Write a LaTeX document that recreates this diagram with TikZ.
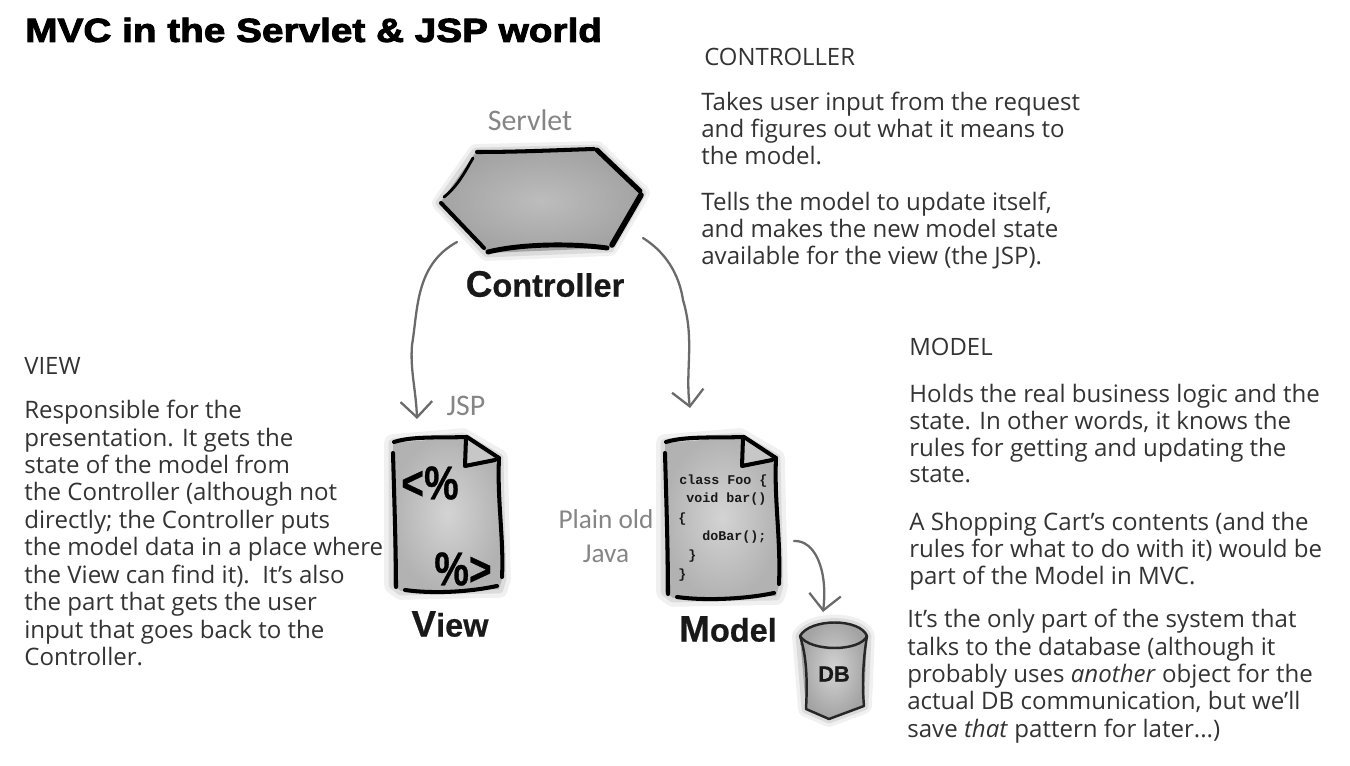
\documentclass[tikz,border=0pt]{standalone}
\usepackage{fontspec}
\usepackage{xcolor}
\usetikzlibrary{arrows.meta}
\setmainfont{Open Sans}
\newfontfamily\headfont[BoldFeatures={FakeBold=2.8,FakeStretch=1.16}]{Liberation Sans}
\newfontfamily\labelfont[BoldFeatures={FakeBold=0.6}]{Liberation Sans}
\newfontfamily\glyphfont[BoldFeatures={FakeBold=0.6,FakeStretch=0.82}]{Liberation Sans}
\newfontfamily\handfont{Carlito}
\newfontfamily\codefont{Liberation Mono}
\definecolor{inktext}{HTML}{333333}
\definecolor{pencil}{HTML}{6A6A6A}
\definecolor{handgray}{HTML}{858585}
\tikzset{
    bodytext/.style={text=inktext, anchor=north west, align=left, inner sep=0pt, font=\fontsize{13.7}{15.2}\selectfont},
    headtext/.style={text=inktext, anchor=west, inner sep=0pt, font=\fontsize{13.6}{15}\selectfont},
    handtext/.style={text=handgray, inner sep=0pt, align=center, font=\handfont\fontsize{17}{19}\selectfont},
    parttext/.style={text=black!90, inner sep=0pt, font=\labelfont\bfseries\fontsize{18.5}{20}\selectfont},
    ink/.style={black, line width=2.3pt, line cap=round, line join=round},
    thinink/.style={black!85, line width=1.4pt, line cap=round, line join=round},
    halo/.style={draw=black!\haloshade, line width=#1, line join=round},
    iconfill/.style={inner color=black!17, outer color=black!30},
    sketch/.style={pencil, line width=1.3pt, line cap=round, -{Straight Barb[length=9pt,width=18pt]}}
}
\newcommand{\haloshade}{6}
\begin{document}
\begin{tikzpicture}[x=0.02cm, y=-0.02cm]
    \useasboundingbox (0, 0) rectangle (1350, 766);

    % title
    \node[anchor=west, inner sep=0pt, font=\headfont\bfseries\fontsize{19}{21}\selectfont] (title) at (25, 30) {MVC in the Servlet \& JSP world};

    % controller hexagon
    \foreach \wd/\sh in {9pt/6, 5pt/14} {
        \renewcommand{\haloshade}{\sh}
        \path[halo=\wd] (440,203) -- (476,152) -- (597,149) -- (642,193) -- (610,248) -- (487,253) -- cycle;
    }
    \shade[inner color=black!26, outer color=black!36] (440,203) -- (476,152) -- (597,149) -- (642,193) -- (610,248) -- (487,253) -- cycle;
    \draw[ink] (477,152) .. controls (520,152) and (560,150) .. (594,149);
    \draw[ink, line width=2.8pt] (597,150) -- (640,191);
    \draw[ink, line width=3.2pt] (641,195) -- (612,245);
    \draw[ink, line width=2.8pt] (488,252) .. controls (520,244) and (570,243) .. (607,248);
    \draw[ink] (441,203) -- (484,248);
    \draw[ink, line width=1.6pt] (444,197) .. controls (458,186) and (466,170) .. (473,158);
    \node[handtext] (servlet) at (530, 120) {Servlet};
    \node[parttext] (controller) at (545, 284) {{\fontsize{21}{20}\selectfont C}ontroller};

    % view and model pages
    \foreach \l/\r/\b in {393/499/589, 665/776/596} {
        \foreach \wd/\sh in {10pt/6, 5pt/14} {
            \renewcommand{\haloshade}{\sh}
            \path[halo=\wd] (\l,443) -- (\r-36,437) -- (\r,458) -- (\r+3,\b-10) -- (\r,\b) -- (\l+8,\b+2) -- (\l,\b-4) -- cycle;
        }
        \shade[iconfill] (\l,443) -- (\r-36,437) -- (\r,458) -- (\r+3,\b-10) -- (\r,\b) -- (\l+8,\b+2) -- (\l,\b-4) -- cycle;
        \draw[ink] (\l+1,442) .. controls (\l+20,436) and (\r-60,438) .. (\r-32,437) -- (\r,458);
        \draw[ink] (\l,453) .. controls (\l+1,490) and (\l+3,550) .. (\l+3,\b-2);
        \draw[ink] (\r,458) .. controls (\r-2,500) and (\r+5,540) .. (\r+3,\b-12);
        \draw[ink] (\l+12,\b+1) .. controls (\l+40,\b+5) and (\r-30,\b+3) .. (\r-2,\b-3);
        \fill[black!22] (\r-32,440) -- (\r-3,459) -- (\r-33,466) -- cycle;
        \draw[ink] (\r-33,438) -- (\r-34,466) -- (\r-4,460);
    }

    % view page glyphs
    \node[inner sep=0pt, font=\glyphfont\bfseries\fontsize{27}{27}\selectfont] (openTag) at (430, 483) {<\%};
    \node[inner sep=0pt, font=\glyphfont\bfseries\fontsize{27}{27}\selectfont] (closeTag) at (463, 569) {\%>};
    \node[parttext] (view) at (450, 624) {{\fontsize{21}{20}\selectfont V}iew};
    \node[handtext] (jsp) at (466, 406) {JSP};

    % model page code
    \foreach \i/\x/\y/\t in {1/679/481/class Foo \{, 2/686/499/void bar(), 3/678/519/\{, 4/702/537/doBar();, 5/688/556/\}, 6/678/575/\}} {
        \node[anchor=west, inner sep=0pt, text=black!90, font=\codefont\bfseries\fontsize{7.6}{9}\selectfont] (code\i) at (\x, \y) {\t};
    }
    \node[parttext] (model) at (728, 629) {{\fontsize{21}{20}\selectfont M}odel};
    \node[handtext, font=\handfont\fontsize{15.5}{19.5}\selectfont] (java) at (606, 536) {Plain old\\Java};

    % database
    \foreach \wd/\sh in {9pt/6, 5pt/14} {
        \renewcommand{\haloshade}{\sh}
        \path[halo=\wd] (800,636) .. controls (810,618) and (860,618) .. (867,636) -- (864,706) -- (829,719) -- (806,709) -- cycle;
    }
    \shade[iconfill, outer color=black!36] (800,636) .. controls (810,618) and (860,618) .. (867,636) -- (864,706) -- (829,719) -- (806,709) -- cycle;
    \draw[thinink] (800,636) .. controls (810,618) and (860,618) .. (867,636) .. controls (860,652) and (810,652) .. (800,636);
    \draw[thinink] (800,636) .. controls (808,660) and (807,690) .. (806,709) -- (829,719) -- (864,706) .. controls (862,685) and (863,660) .. (867,636);
    \node[inner sep=0pt, text=black!90, font=\labelfont\bfseries\fontsize{12.5}{14}\selectfont] (db) at (834, 674) {DB};

    % connectors
    \coordinate (hexLeft) at (457, 242);
    \coordinate (hexRight) at (643, 238);
    \coordinate (viewTop) at (417, 419);
    \coordinate (modelTop) at (690, 408);
    \coordinate (pageSide) at (794, 541);
    \coordinate (dbTop) at (823, 612);
    \draw[sketch] (hexLeft) .. controls (415,265) and (418,310) .. (412,345) .. controls (410,370) and (416,390) .. (viewTop);
    \draw[sketch] (hexRight) .. controls (670,255) and (680,280) .. (683,300) .. controls (695,340) and (685,370) .. (modelTop);
    \draw[sketch] (pageSide) .. controls (815,540) and (828,570) .. (dbTop);

    % controller text
    \node[headtext] (controllerHead) at (704, 57) {CONTROLLER};
    \node[bodytext] (controllerOne) at (701, 92) {Takes user input from the request\\and figures out what it means to\\the model.};
    \node[bodytext] (controllerTwo) at (701, 192) {Tells the model to update itself,\\and makes the new model state\\available for the view (the JSP).};

    % model text
    \node[headtext] (modelHead) at (909, 347) {MODEL};
    \node[bodytext] (modelOne) at (909, 384) {Holds the real business logic and the\\state. In other words, it knows the\\rules for getting and updating the\\state.};
    \node[bodytext] (modelTwo) at (909, 512) {A Shopping Cart’s contents (and the\\rules for what to do with it) would be\\part of the Model in MVC.};
    \node[bodytext, font=\fontsize{13.7}{15.6}\selectfont] (modelThree) at (907, 609) {It’s the only part of the system that\\talks to the database (although it\\probably uses \textit{another} object for the\\actual DB communication, but we’ll\\save \textit{that} pattern for later...)};

    % view text
    \node[headtext] (viewHead) at (24, 366) {VIEW};
    \node[bodytext, font=\fontsize{13.7}{15.6}\selectfont] (viewOne) at (24, 400) {Responsible for the\\presentation. It gets the\\state of the model from\\the Controller (although not\\directly; the Controller puts\\the model data in a place where\\the View can find it).\ \ It’s also\\the part that gets the user\\input that goes back to the\\Controller.};
\end{tikzpicture}
\end{document}
